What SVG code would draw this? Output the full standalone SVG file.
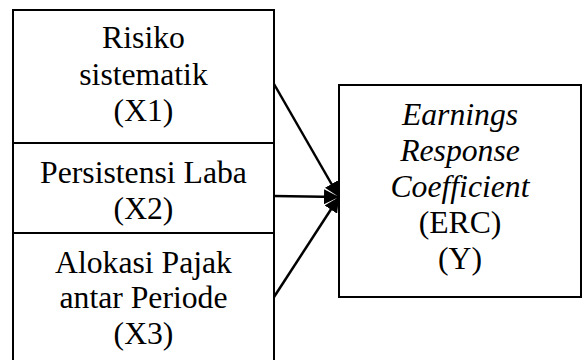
<svg xmlns="http://www.w3.org/2000/svg" width="582" height="360" viewBox="0 0 582 360">
<style>
.box{fill:#fff;stroke:#000;stroke-width:2}
.t{font-family:"Liberation Serif","Times New Roman",serif;font-size:31.7px;fill:#000;text-anchor:middle}
.i{font-style:italic}
.c{stroke:#000;stroke-width:2.5;fill:none}
</style>
<defs>
<marker id="ah" viewBox="0 0 10 10" refX="10" refY="5" markerWidth="6" markerHeight="6" orient="auto" markerUnits="strokeWidth">
<path d="M0,0 L10,5 L0,10 Z" fill="#000"/>
</marker>
</defs>
<rect width="582" height="360" fill="#fff"/>
<g id="x1">
<rect class="box" x="13" y="10" width="261" height="133"/>
<text class="t" x="143.5" y="48">Risiko</text>
<text class="t" x="143.5" y="85">sistematik</text>
<text class="t" x="143.5" y="121">(X1)</text>
</g>
<g id="x2">
<rect class="box" x="13" y="143" width="261" height="90"/>
<text class="t" x="143.5" y="183">Persistensi Laba</text>
<text class="t" x="143.5" y="219">(X2)</text>
</g>
<g id="x3">
<rect class="box" x="13" y="233" width="261" height="135"/>
<text class="t" x="143.5" y="273">Alokasi Pajak</text>
<text class="t" x="143.5" y="308">antar Periode</text>
<text class="t" x="143.5" y="344">(X3)</text>
</g>
<g id="y">
<rect class="box" x="339" y="85" width="242" height="212"/>
<text class="t i" x="460" y="125">Earnings</text>
<text class="t i" x="460" y="161">Response</text>
<text class="t i" x="460" y="197">Coefficient</text>
<text class="t" x="460" y="233">(ERC)</text>
<text class="t" x="460" y="269">(Y)</text>
</g>
<g id="connectors">
<line class="c" x1="274" y1="84" x2="339" y2="197" marker-end="url(#ah)"/>
<line class="c" x1="274" y1="196" x2="339" y2="197" marker-end="url(#ah)"/>
<line class="c" x1="274" y1="297" x2="339" y2="197" marker-end="url(#ah)"/>
</g>
</svg>
